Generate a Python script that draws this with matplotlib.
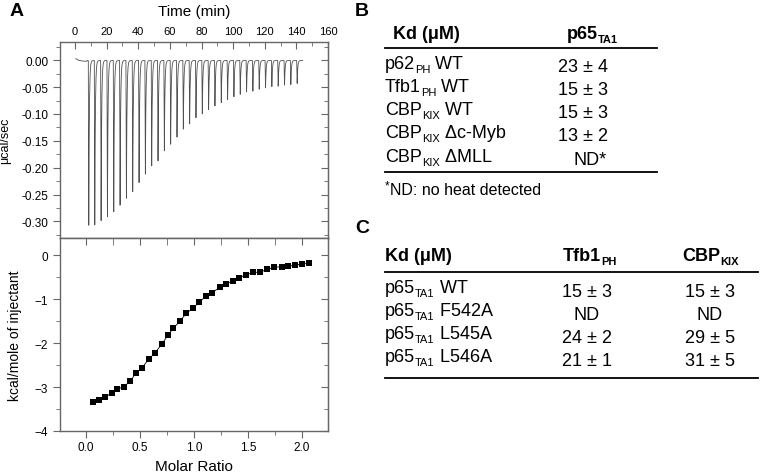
import numpy as np
import matplotlib.pyplot as plt
from matplotlib.ticker import MultipleLocator, FormatStrFormatter

plt.rcParams['font.family'] = ['Liberation Sans', 'DejaVu Sans']

# raw ITC trace: injection times (min) and peak heat (ucal/sec)
inj_time = [8.4, 12.2, 16.2, 20.2, 24.2, 28.2, 32.2, 36.2, 40.2, 44.2, 48.2,
            52.2, 56.2, 60.2, 64.2, 68.2, 72.2, 76.2, 80.2, 84.2, 88.2, 92.2,
            96.2, 100.2, 104.2, 108.2, 112.2, 116.2, 120.2, 124.2, 128.2,
            132.2, 136.2, 140.2]
inj_peak = [-0.308, -0.309, -0.299, -0.293, -0.283, -0.271, -0.258, -0.245,
            -0.229, -0.212, -0.198, -0.187, -0.170, -0.156, -0.144, -0.128,
            -0.119, -0.107, -0.100, -0.092, -0.085, -0.079, -0.073, -0.068,
            -0.063, -0.059, -0.057, -0.054, -0.051, -0.049, -0.048, -0.046,
            -0.045, -0.043]
trace_start, trace_end = 0.5, 144.0

# integrated heats
molar_ratio = [0.068, 0.12, 0.18, 0.24, 0.29, 0.35, 0.41, 0.46, 0.52, 0.58,
               0.64, 0.70, 0.76, 0.81, 0.87, 0.93, 0.99, 1.05, 1.11, 1.17,
               1.24, 1.30, 1.36, 1.42, 1.48, 1.55, 1.61, 1.68, 1.74, 1.81,
               1.87, 1.93, 2.00, 2.06]
kcal = [-3.34, -3.30, -3.23, -3.13, -3.05, -2.99, -2.87, -2.69, -2.56, -2.37,
        -2.22, -2.03, -1.82, -1.66, -1.50, -1.32, -1.21, -1.06, -0.94, -0.85,
        -0.73, -0.65, -0.58, -0.51, -0.45, -0.39, -0.39, -0.32, -0.28, -0.26,
        -0.25, -0.23, -0.20, -0.17]

# table B: (name, subscript, suffix)
tabB_cols = [('Kd (\u03bcM)', '', ''), ('p65', 'TA1', '')]
tabB_rows = [('p62', 'PH', ' WT'), ('Tfb1', 'PH', ' WT'), ('CBP', 'KIX', ' WT'),
             ('CBP', 'KIX', ' \u0394c-Myb'), ('CBP', 'KIX', ' \u0394MLL')]
tabB_vals = ['23 \u00b1 4', '15 \u00b1 3', '15 \u00b1 3', '13 \u00b1 2', 'ND*']
tabB_note = 'ND: no heat detected'

# table C
tabC_cols = [('Kd (\u03bcM)', '', ''), ('Tfb1', 'PH', ''), ('CBP', 'KIX', '')]
tabC_rows = [('p65', 'TA1', ' WT'), ('p65', 'TA1', ' F542A'),
             ('p65', 'TA1', ' L545A'), ('p65', 'TA1', ' L546A')]
tabC_tfb1 = ['15 \u00b1 3', 'ND', '24 \u00b1 2', '21 \u00b1 1']
tabC_cbp = ['15 \u00b1 3', 'ND', '29 \u00b1 5', '31 \u00b1 5']

W, H = 761, 477
fig = plt.figure(figsize=(W / 100, H / 100), dpi=100)
renderer = fig.canvas.get_renderer()
spine_col = '#666666'


def px(x0, y0, x1, y1):
    return [x0 / W, 1 - y1 / H, (x1 - x0) / W, (y1 - y0) / H]


def style(ax):
    for s in ax.spines.values():
        s.set_color(spine_col)
        s.set_linewidth(1.0)


def ticks(ax, axis, major, minor, direction, **kw):
    a = ax.xaxis if axis == 'x' else ax.yaxis
    a.set_major_locator(MultipleLocator(major))
    a.set_minor_locator(MultipleLocator(minor))
    ax.tick_params(which='both', direction=direction, color=spine_col, **kw)
    ax.tick_params(which='major', length=5)
    ax.tick_params(which='minor', length=3)


# ---- top: raw trace
ax1 = fig.add_axes(px(60, 43, 328, 239))
t = np.linspace(trace_start, trace_end, 20000)
y = 0.003 - 0.005 * (1 - np.exp(-(t - trace_start) / 2.0))
y = np.where(t < 7.5, y, -0.0005)
for ti, pk in zip(inj_time, inj_peak):
    dt = t - ti
    down = np.clip(dt / 0.3, 0, 1)
    up = np.exp(-np.clip(dt - 0.3, 0, None) / 0.35)
    y = y + pk * np.where(dt >= 0, down * up, 0)
ax1.plot(t, y, color='#505050', lw=0.6)
ax1.set_xlim(-9.5, 160)
ax1.set_ylim(-0.331, 0.034)
ax1.xaxis.tick_top()
ax1.xaxis.set_label_position('top')
ax1.xaxis.set_major_locator(MultipleLocator(20))
ax1.xaxis.set_minor_locator(MultipleLocator(10))
ax1.tick_params(axis='x', which='both', direction='in', top=True, bottom=False,
                labelsize=8, color=spine_col, pad=4)
ax1.tick_params(axis='x', which='major', length=5)
ax1.tick_params(axis='x', which='minor', length=3)
ax1.yaxis.set_major_locator(MultipleLocator(0.05))
ax1.yaxis.set_minor_locator(MultipleLocator(0.025))
ax1.yaxis.set_major_formatter(FormatStrFormatter('%.2f'))
ax1.tick_params(axis='y', which='both', direction='out', labelsize=8.5,
                color=spine_col)
ax1.tick_params(axis='y', which='major', length=5)
ax1.tick_params(axis='y', which='minor', length=3)
ax1.set_xlabel('Time (min)', fontsize=11, labelpad=8)
ax1.set_ylabel('\u03bccal/sec', fontsize=9, labelpad=7)
r1 = ax1.secondary_yaxis('right')
ticks(r1, 'y', 0.05, 0.025, 'in', labelright=False)
style(ax1)
r1.spines['right'].set_color(spine_col)

# ---- bottom: binding isotherm
ax2 = fig.add_axes(px(60, 239, 328, 432))
ax2.plot(molar_ratio, kcal, color='black', lw=0.6)
ax2.scatter(molar_ratio, kcal, marker='s', s=17, color='black', zorder=3,
            linewidths=0)
ax2.set_xlim(-0.24, 2.24)
ax2.set_ylim(-4, 0.39)
ticks(ax2, 'x', 0.5, 0.25, 'out', labelsize=8.5)
ticks(ax2, 'y', 1, 0.5, 'out', labelsize=8.5)
ax2.xaxis.set_major_formatter(FormatStrFormatter('%.1f'))
ax2.tick_params(axis='x', pad=2.5)
ax2.set_xlabel('Molar Ratio', fontsize=11, labelpad=4)
ax2.set_ylabel('kcal/mole of injectant', fontsize=10, labelpad=9)
r2 = ax2.secondary_yaxis('right')
ticks(r2, 'y', 1, 0.5, 'in', labelright=False)
t2 = ax2.secondary_xaxis('top')
ticks(t2, 'x', 0.5, 0.25, 'in', labeltop=False)
t2.tick_params(which='minor', length=5)
style(ax2)
r2.spines['right'].set_color(spine_col)
t2.spines['top'].set_color(spine_col)

# ---- tables, drawn in pixel space
tx = fig.add_axes([0, 0, 1, 1], zorder=-1)
tx.set_xlim(0, W)
tx.set_ylim(H, 0)
tx.axis('off')

fs, sub_fs = 13, 8


def rich(x, y, name, sub, rest, bold=False):
    # main text + lowered small subscript + rest, laid out left to right
    w = 'bold' if bold else 'normal'
    pieces = [(name, fs, 0), (sub, sub_fs, 4), (rest, fs, 0)]
    xc = x
    for s, size, dy in pieces:
        if not s:
            continue
        a = tx.text(xc, y + dy, s.replace(' ', '\u00a0'), fontsize=size,
                    fontweight=w, va='baseline')
        xc += a.get_window_extent(renderer).width


for lbl, xl, yl in [('A', 17, 11), ('B', 362, 11), ('C', 362, 229)]:
    tx.text(xl, yl, lbl, fontsize=14, fontweight='bold', ha='center', va='center')

# B
rich(393, 39, *tabB_cols[0], bold=True)
rich(567, 39, *tabB_cols[1], bold=True)
tx.plot([385, 657], [49, 49], color='black', lw=1.3)
rowsB_y = [69, 92, 115, 138, 162]
for i, (row, val) in enumerate(zip(tabB_rows, tabB_vals)):
    rich(385, rowsB_y[i], *row)
    xv = 590 if val.endswith('*') else 583
    tx.text(xv, rowsB_y[i] + 3, val, fontsize=fs, va='baseline', ha='center')
tx.plot([385, 657], [173, 173], color='black', lw=1.3)
tx.text(385, 189, '*', fontsize=8.5, va='baseline')
tx.text(390, 195, tabB_note, fontsize=11.5, va='baseline')

# C
rich(385, 261, *tabC_cols[0], bold=True)
rich(563, 261, *tabC_cols[1], bold=True)
rich(682, 261, *tabC_cols[2], bold=True)
tx.plot([385, 758], [273, 273], color='black', lw=1.3)
rowsC_y = [293, 316, 339, 362]
for i in range(len(tabC_rows)):
    rich(385, rowsC_y[i], *tabC_rows[i])
    tx.text(587, rowsC_y[i] + 4, tabC_tfb1[i], fontsize=fs, va='baseline', ha='center')
    tx.text(710, rowsC_y[i] + 4, tabC_cbp[i], fontsize=fs, va='baseline', ha='center')
tx.plot([385, 758], [379, 379], color='black', lw=1.3)

fig.savefig('out.png', dpi=100)
